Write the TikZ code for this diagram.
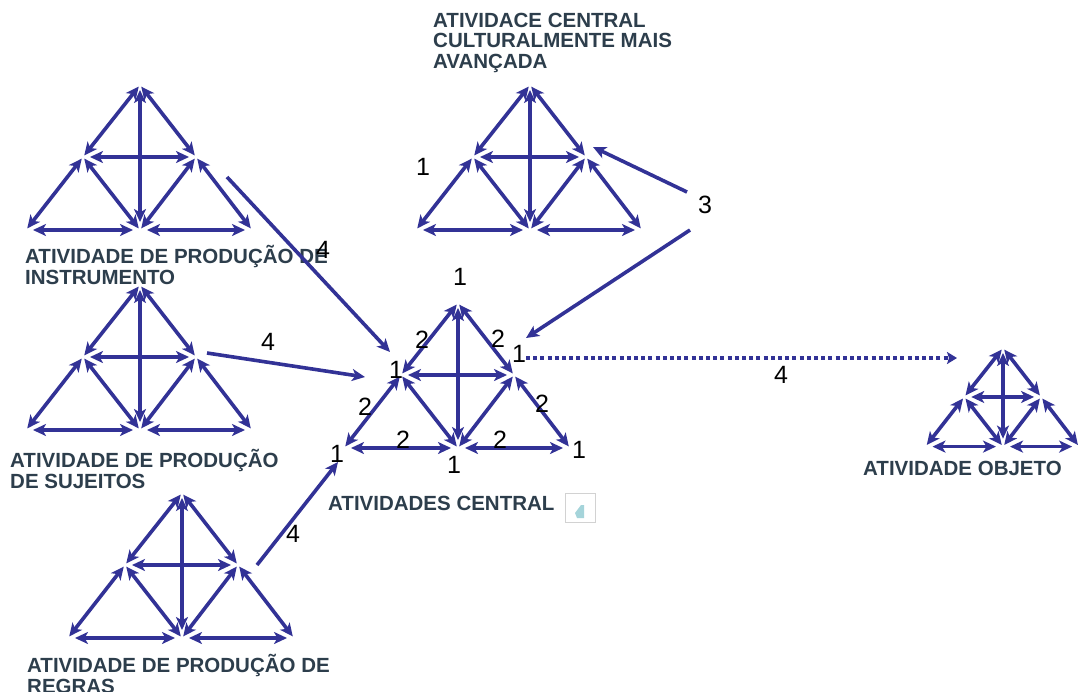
\documentclass[tikz,border=0pt]{standalone}
\usepackage{fontspec}
\setmainfont{Liberation Sans}
\usetikzlibrary{arrows.meta}
\definecolor{arr}{RGB}{50,50,150}
\definecolor{lab}{RGB}{45,62,76}
\definecolor{spk}{RGB}{165,212,218}
\tikzset{
  tip/.tip={Stealth[length=13pt,width=12pt,inset=3.5pt]},
  dbl/.style={draw=arr, line width=3.6pt, tip-tip, shorten <=2pt, shorten >=2pt},
  hdbl/.style={dbl, shorten <=7pt, shorten >=7pt},
  vdbl/.style={dbl, shorten <=5pt, shorten >=8pt},
  one/.style={draw=arr, line width=3.6pt, -tip},
  dotarr/.style={draw=arr, line width=4pt, dash pattern=on 4pt off 3.2pt, -{Stealth[length=10pt,width=12pt,inset=2pt]}},
  lbl/.style={font=\fontsize{20.5}{20.5}\selectfont\bfseries, text=lab, inner sep=0pt, align=left, anchor=base west},
  num/.style={font=\fontsize{25}{25}\selectfont, inner sep=0pt, anchor=base},
}
\newcommand\actri[4]{%
  \begin{scope}[shift={(#2,#3)}, scale=#4]
    \coordinate (#1T) at (0,0);
    \coordinate (#1L) at (-57,72);
    \coordinate (#1R) at (56,72);
    \coordinate (#1BL) at (-114,145);
    \coordinate (#1BC) at (0,145);
    \coordinate (#1BR) at (112,145);
  \end{scope}
  \draw[dbl] (#1T) -- (#1L);
  \draw[dbl] (#1T) -- (#1R);
  \draw[vdbl] (#1T) -- (#1BC);
  \draw[hdbl] (#1L) -- (#1R);
  \draw[dbl] (#1L) -- (#1BL);
  \draw[dbl] (#1L) -- (#1BC);
  \draw[dbl] (#1R) -- (#1BC);
  \draw[dbl] (#1R) -- (#1BR);
  \draw[hdbl] (#1BL) -- (#1BC);
  \draw[hdbl] (#1BC) -- (#1BR);
}
\begin{document}
\begin{tikzpicture}[x=1pt,y=-1pt]
\useasboundingbox[fill=white] (0,0) rectangle (1078,691);

% triangles
\actri{a}{140}{85}{1}
\actri{b}{530}{85}{1}
\actri{c}{140}{285}{1}
\actri{d}{182}{493}{1}
\actri{e}{458}{303}{1}
\actri{f}{1003}{348}{0.68}

% labels (anchor = baseline of last line)
\node[lbl] (labA) at (25,284) {ATIVIDADE DE PRODUÇÃO DE\\INSTRUMENTO};
\node[lbl] (labB) at (433,68) {ATIVIDACE CENTRAL\\CULTURALMENTE MAIS\\AVANÇADA};
\node[lbl] (labC) at (10,488) {ATIVIDADE DE PRODUÇÃO\\DE SUJEITOS};
\node[lbl] (labD) at (27,693) {ATIVIDADE DE PRODUÇÃO DE\\REGRAS};
\node[lbl] (labE) at (328,510) {ATIVIDADES CENTRAL};
\node[lbl] (labF) at (863,475) {ATIVIDADE OBJETO};

% icon
\node[draw=gray!35, line width=0.7pt, minimum width=30pt, minimum height=29pt, inner sep=0pt] (icon) at (580,508) {};
\fill[spk] (575,513) -- (581,505) -- (584,505) -- (584,518) -- (577,518) -- cycle;

% numbers
\node[num] (eT) at (460,285) {1};
\node[num] (e2a) at (422,348) {2};
\node[num] (e2b) at (498,347) {2};
\node[num] (eR) at (519,362) {1};
\node[num] (eL) at (396,378) {1};
\node[num] (e2c) at (365,415) {2};
\node[num] (e2d) at (542,412) {2};
\node[num] (e2e) at (403,448) {2};
\node[num] (e2f) at (500,448) {2};
\node[num] (eBL) at (337,462) {1};
\node[num] (eBC) at (454,473) {1};
\node[num] (eBR) at (579,458) {1};
\node[num] (bOne) at (423,175) {1};
\node[num] (three) at (705,213) {3};
\node[num] (fourA) at (323,258) {4};
\node[num] (fourC) at (268,350) {4};
\node[num] (fourD) at (293,542) {4};
\node[num] (fourF) at (781,383) {4};

% connectors
\coordinate (s1) at (227,177); \coordinate (t1) at (390,352);
\coordinate (s2) at (207,353); \coordinate (t2) at (365,377);
\coordinate (s3) at (257,565); \coordinate (t3) at (338,462);
\coordinate (s4) at (690,230); \coordinate (t4) at (526,338);
\coordinate (s5) at (687,192); \coordinate (t5) at (593,147);
\coordinate (s6) at (526,358); \coordinate (t6) at (957,358);
\draw[one] (s1) -- (t1);
\draw[one] (s2) -- (t2);
\draw[one] (s3) -- (t3);
\draw[one] (s4) -- (t4);
\draw[one] (s5) -- (t5);
\draw[dotarr] (s6) -- (t6);
\end{tikzpicture}
\end{document}
